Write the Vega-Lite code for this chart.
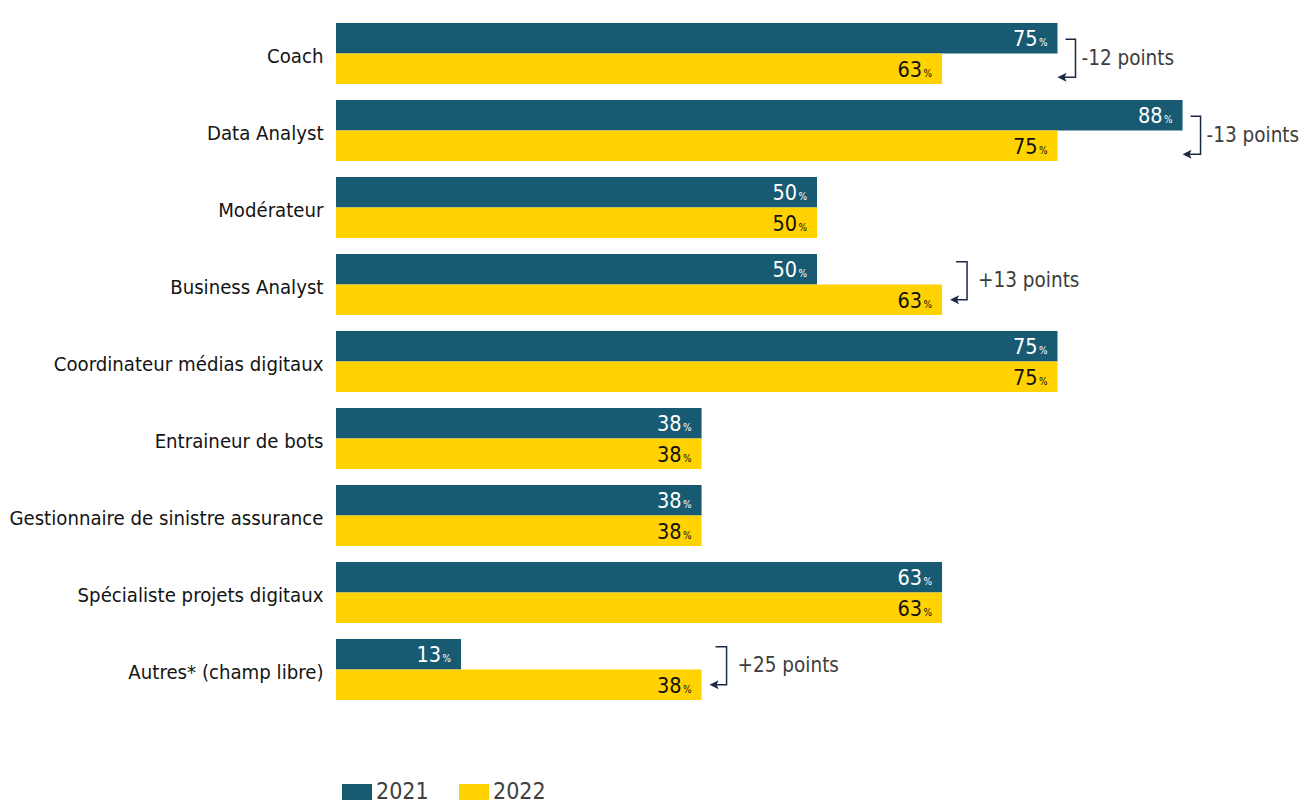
{
  "$schema": "https://vega.github.io/schema/vega-lite/v6.json",
  "width": 962,
  "height": 693,
  "autosize": {"type": "none"},
  "padding": {"left": 336, "top": 15, "right": 13, "bottom": 95},
  "config": {"view": {"stroke": null}, "font": "DejaVu Sans Condensed"},
  "datasets": {
    "bars": [
      {"cat": "Coach", "year": "2021", "pct": 75},
      {"cat": "Coach", "year": "2022", "pct": 63},
      {"cat": "Data Analyst", "year": "2021", "pct": 88},
      {"cat": "Data Analyst", "year": "2022", "pct": 75},
      {"cat": "Modérateur", "year": "2021", "pct": 50},
      {"cat": "Modérateur", "year": "2022", "pct": 50},
      {"cat": "Business Analyst", "year": "2021", "pct": 50},
      {"cat": "Business Analyst", "year": "2022", "pct": 63},
      {"cat": "Coordinateur médias digitaux", "year": "2021", "pct": 75},
      {"cat": "Coordinateur médias digitaux", "year": "2022", "pct": 75},
      {"cat": "Entraineur de bots", "year": "2021", "pct": 38},
      {"cat": "Entraineur de bots", "year": "2022", "pct": 38},
      {"cat": "Gestionnaire de sinistre assurance", "year": "2021", "pct": 38},
      {"cat": "Gestionnaire de sinistre assurance", "year": "2022", "pct": 38},
      {"cat": "Spécialiste projets digitaux", "year": "2021", "pct": 63},
      {"cat": "Spécialiste projets digitaux", "year": "2022", "pct": 63},
      {"cat": "Autres* (champ libre)", "year": "2021", "pct": 13},
      {"cat": "Autres* (champ libre)", "year": "2022", "pct": 38}
    ],
    "annots": [
      {"cat": "Coach", "label": "-12 points", "sens": "baisse"},
      {"cat": "Data Analyst", "label": "-13 points", "sens": "baisse"},
      {"cat": "Business Analyst", "label": "+13 points", "sens": "hausse"},
      {"cat": "Autres* (champ libre)", "label": "+25 points", "sens": "hausse"}
    ]
  },
  "data": {"name": "bars"},
  "encoding": {
    "y": {
      "field": "cat",
      "type": "nominal",
      "sort": ["Coach", "Data Analyst", "Modérateur", "Business Analyst", "Coordinateur médias digitaux", "Entraineur de bots", "Gestionnaire de sinistre assurance", "Spécialiste projets digitaux", "Autres* (champ libre)"],
      "scale": {"paddingInner": 0.208, "paddingOuter": 0.104},
      "axis": {"title": null, "domain": false, "ticks": false, "labelPadding": 13, "labelFontSize": 20.2, "labelColor": "#141414", "labelLimit": 400, "labelOffset": 3}
    },
    "yOffset": {
      "field": "year",
      "type": "nominal",
      "sort": ["2021", "2022"],
      "scale": {"paddingInner": 0, "paddingOuter": 0}
    }
  },
  "layer": [
    {
      "mark": {"type": "bar"},
      "encoding": {
        "x": {"field": "pct", "type": "quantitative", "scale": {"domain": [0, 100]}, "axis": null},
        "color": {
          "field": "year",
          "type": "nominal",
          "scale": {"domain": ["2021", "2022"], "range": ["#185a72", "#ffd200"]},
          "legend": {
            "orient": "none",
            "legendX": 6,
            "legendY": 762,
            "direction": "horizontal",
            "title": null,
            "padding": 0,
            "symbolType": "M-1,-0.5333H1V0.5333H-1Z",
            "symbolSize": 900,
            "symbolStrokeWidth": 0,
            "symbolOpacity": 1,
            "labelFontSize": 23,
            "labelColor": "#404040",
            "labelOffset": 4,
            "columnPadding": 30
          }
        }
      }
    },
    {
      "mark": {"type": "text", "align": "right", "baseline": "alphabetic", "dx": -20, "dy": 8, "fontSize": 21.5},
      "encoding": {
        "x": {"field": "pct", "type": "quantitative", "scale": {"domain": [0, 100]}, "axis": null},
        "text": {"field": "pct", "type": "quantitative", "format": "d"},
        "color": {"condition": {"test": "datum.year === '2021'", "value": "#ffffff"}, "value": "#111111"}
      }
    },
    {
      "mark": {"type": "text", "text": "%", "align": "right", "baseline": "alphabetic", "dx": -10, "dy": 8, "fontSize": 10},
      "encoding": {
        "x": {"field": "pct", "type": "quantitative", "scale": {"domain": [0, 100]}, "axis": null},
        "color": {"condition": {"test": "datum.year === '2021'", "value": "#ffffff"}, "value": "#111111"}
      }
    },
    {
      "transform": [
        {"joinaggregate": [{"op": "max", "field": "pct", "as": "maxpct"}], "groupby": ["cat"]},
        {"filter": "datum.year === '2021'"},
        {"lookup": "cat", "from": {"data": {"name": "annots"}, "key": "cat", "fields": ["label", "sens"]}},
        {"filter": "datum.sens === 'baisse'"}
      ],
      "layer": [
        {
          "mark": {"type": "point", "shape": "M8,1H18V39H5", "size": 4, "filled": false, "stroke": "#1b2a44", "strokeWidth": 1.5, "opacity": 1},
          "encoding": {"x": {"field": "maxpct", "type": "quantitative", "scale": {"domain": [0, 100]}, "axis": null}}
        },
        {
          "mark": {"type": "point", "shape": "M0,39L9,34.5L7,39L9,43.5Z", "size": 4, "filled": true, "fill": "#1b2a44", "strokeWidth": 0, "opacity": 1},
          "encoding": {"x": {"field": "maxpct", "type": "quantitative", "scale": {"domain": [0, 100]}, "axis": null}}
        },
        {
          "mark": {"type": "text", "align": "left", "baseline": "middle", "dx": 24, "dy": 21, "fontSize": 20.5, "color": "#3d3d3d"},
          "encoding": {
            "x": {"field": "maxpct", "type": "quantitative", "scale": {"domain": [0, 100]}, "axis": null},
            "text": {"field": "label", "type": "nominal"}
          }
        }
      ]
    },
    {
      "transform": [
        {"joinaggregate": [{"op": "max", "field": "pct", "as": "maxpct"}], "groupby": ["cat"]},
        {"filter": "datum.year === '2021'"},
        {"lookup": "cat", "from": {"data": {"name": "annots"}, "key": "cat", "fields": ["label", "sens"]}},
        {"filter": "datum.sens === 'hausse'"}
      ],
      "layer": [
        {
          "mark": {"type": "point", "shape": "M14,-7.5H25V30.5H14", "size": 4, "filled": false, "stroke": "#1b2a44", "strokeWidth": 1.5, "opacity": 1},
          "encoding": {"x": {"field": "maxpct", "type": "quantitative", "scale": {"domain": [0, 100]}, "axis": null}}
        },
        {
          "mark": {"type": "point", "shape": "M8,30.5L17,26L15,30.5L17,35Z", "size": 4, "filled": true, "fill": "#1b2a44", "strokeWidth": 0, "opacity": 1},
          "encoding": {"x": {"field": "maxpct", "type": "quantitative", "scale": {"domain": [0, 100]}, "axis": null}}
        },
        {
          "mark": {"type": "text", "align": "left", "baseline": "middle", "dx": 36, "dy": 11.5, "fontSize": 20.5, "color": "#3d3d3d"},
          "encoding": {
            "x": {"field": "maxpct", "type": "quantitative", "scale": {"domain": [0, 100]}, "axis": null},
            "text": {"field": "label", "type": "nominal"}
          }
        }
      ]
    }
  ]
}
